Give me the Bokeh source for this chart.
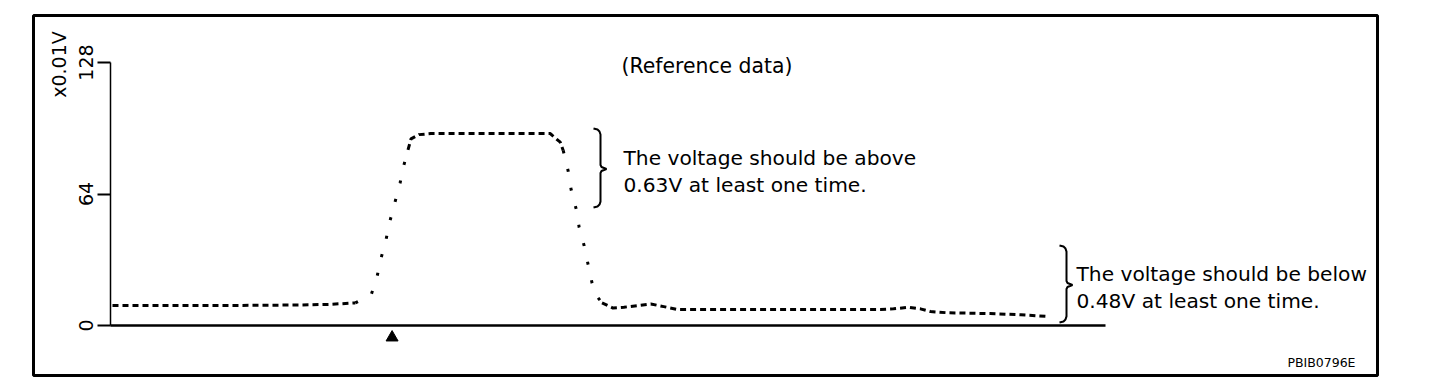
import math
from bokeh.plotting import figure
from bokeh.models import Range1d, FixedTicker
from bokeh.core.properties import value
from bokeh.embed import file_html
from bokeh.resources import INLINE

# ---------------- data ----------------
TIME = [0.2, 9.0, 14.1, 19.1, 22.1, 24.6, 26.2, 26.8, 27.2, 27.7, 28.1, 28.6, 29.1,
        29.5, 29.9, 30.2, 31.0, 32.2, 44.2, 44.4, 45.2, 45.5, 46.0, 46.3, 46.8, 47.1,
        47.6, 48.0, 48.4, 48.7, 49.4, 50.5, 51.6, 53.0, 54.3, 55.6, 57.0, 77.4, 78.7,
        80.2, 81.4, 82.4, 84.1, 88.4, 91.5, 94.3]
VOLT = [9.7, 9.7, 9.8, 10.0, 10.3, 11.0, 14.9, 24.0, 32.9, 42.0, 51.1, 60.2, 69.3,
        78.3, 85.5, 90.8, 92.9, 93.4, 93.4, 92.5, 89.2, 85.2, 75.1, 66.0, 56.7, 47.8,
        38.9, 29.7, 20.6, 15.4, 11.0, 8.5, 8.9, 9.7, 10.5, 9.2, 7.8, 7.8, 8.1,
        8.9, 8.1, 6.8, 6.2, 5.8, 5.2, 4.4]
RISE = (5, 14)      # steep rising run (drawn dotted)
FALL = (21, 30)     # steep falling run (drawn dotted)
Y_TICKS = [0, 64, 128]
Y_TICK_LABELS = ["0", "64", "128"]
Y_UNIT = "x0.01V"
T_MAX = 100
V_MAX = 128
TRIGGER_T = 28.3
HIGH_BAND = (57.4, 95.9)
LOW_BAND = (1.5, 38.9)
TITLE = "(Reference data)"
HIGH_TEXT = ["The voltage should be above", "0.63V at least one time."]
LOW_TEXT = ["The voltage should be below", "0.48V at least one time."]
CODE = "PBIB0796E"

# ---------------- layout (page pixels) ----------------
AX_X0, AX_X1 = 110, 1105     # t = 0 .. T_MAX
AX_Y0, AX_Y1 = 325, 62       # v = 0 .. V_MAX
FR_L, FR_R, FR_T, FR_B = 33, 1377, 15, 375
PAGE = 0

def px2t(px):
    return (px - AX_X0) * T_MAX / (AX_X1 - AX_X0)

def py2v(py):
    return (AX_Y0 - py) * V_MAX / (AX_Y0 - AX_Y1)

def v2py(v):
    return AX_Y0 - v * (AX_Y0 - AX_Y1) / V_MAX

FONT = value("DejaVu Sans")

p = figure(
    frame_width=FR_R - FR_L, frame_height=FR_B - FR_T,
    min_border_left=FR_L - PAGE, min_border_top=FR_T - PAGE,
    min_border_right=10, min_border_bottom=6,
    x_range=Range1d(px2t(FR_L), px2t(FR_R)),
    y_range=Range1d(py2v(FR_B), py2v(FR_T)),
    output_backend="svg", toolbar_location=None,
)
p.outline_line_color = "black"
p.outline_line_width = 3
p.xgrid.visible = False
p.ygrid.visible = False
p.background_fill_color = "white"
p.border_fill_color = "white"

# y axis, fixed at t = 0 (ticks from the library, labels placed below)
ya = p.yaxis[0]
ya.fixed_location = 0
ya.bounds = (0, V_MAX)
ya.ticker = FixedTicker(ticks=Y_TICKS)
ya.axis_line_width = 1.5
ya.axis_line_color = "black"
ya.major_tick_in = 0
ya.major_tick_out = 13
ya.major_tick_line_width = 2
ya.major_tick_line_color = "black"
ya.minor_tick_line_color = None
ya.major_label_text_font_size = "0px"
ya.major_label_text_color = None

# x axis, fixed at v = 0
xa = p.xaxis[0]
xa.fixed_location = 0
xa.bounds = (0, T_MAX)
xa.axis_line_width = 2.5
xa.axis_line_color = "black"
xa.major_tick_line_color = None
xa.minor_tick_line_color = None
xa.major_label_text_font_size = "0px"
xa.major_label_text_color = None

# rotated tick labels at the tick values
p.text([px2t(85)] * len(Y_TICKS), Y_TICKS, text=Y_TICK_LABELS, text_font=FONT,
       text_font_size="19px", text_color="black", text_align="center",
       text_baseline="middle", angle=math.pi / 2)

# ---------------- signal ----------------
def run(a, b):
    return TIME[a:b + 1], VOLT[a:b + 1]

dashed_runs = [(0, RISE[0]), (RISE[1], FALL[0]), (FALL[1], len(TIME) - 1)]
for a, b in dashed_runs:
    xs, ys = run(a, b)
    p.line(xs, ys, line_color="black", line_width=3, line_dash="6 4", line_cap="butt")
for a, b in (RISE, FALL):
    xs, ys = run(a, b)
    p.line(xs, ys, line_color="black", line_width=3, line_dash="3 16", line_cap="butt")

# trigger marker
p.scatter([TRIGGER_T], [py2v(337)], marker="triangle", size=12,
          fill_color="black", line_color="black")

# ---------------- braces ----------------
def brace(x_px, top_v, bot_v, hook=7, tip=6):
    top = v2py(top_v)
    bot = v2py(bot_v)
    mid = (top + bot) / 2 + 1
    pts = [(x_px - hook, top), (x_px - 3, top + 1), (x_px - 1, top + 3), (x_px, top + 6),
           (x_px, mid - 4), (x_px + 1, mid - 2), (x_px + tip, mid),
           (x_px + 1, mid + 2), (x_px, mid + 4), (x_px, bot - 6),
           (x_px - 1, bot - 3), (x_px - 3, bot - 1), (x_px - hook, bot)]
    return [px2t(a) for a, _ in pts], [py2v(b) for _, b in pts]

for xpx, band in ((600, HIGH_BAND), (1066, LOW_BAND)):
    bx, by = brace(xpx, band[1], band[0])
    p.line(bx, by, line_color="black", line_width=2)

# ---------------- texts ----------------
p.text([px2t(621)], [py2v(65)], text=[TITLE], text_font=FONT, text_font_size="20.4px",
       text_color="black", text_baseline="alphabetic", text_align="left")
p.text([px2t(623)] * 2, [py2v(157), py2v(184)], text=HIGH_TEXT, text_font=FONT,
       text_font_size="20.2px", text_color="black", text_baseline="alphabetic", text_align="left")
p.text([px2t(1076)] * 2, [py2v(273), py2v(300)], text=LOW_TEXT, text_font=FONT,
       text_font_size="20.2px", text_color="black", text_baseline="alphabetic", text_align="left")
p.text([px2t(1355)], [py2v(362)], text=[CODE], text_font=FONT, text_font_size="12.5px",
       text_color="black", text_baseline="alphabetic", text_align="right")
p.text([px2t(58)], [py2v(64)], text=[Y_UNIT], text_font=FONT, text_font_size="19px",
       text_color="black", text_baseline="middle", text_align="center", angle=math.pi / 2)

open("out.html", "w").write(file_html(p, INLINE))
